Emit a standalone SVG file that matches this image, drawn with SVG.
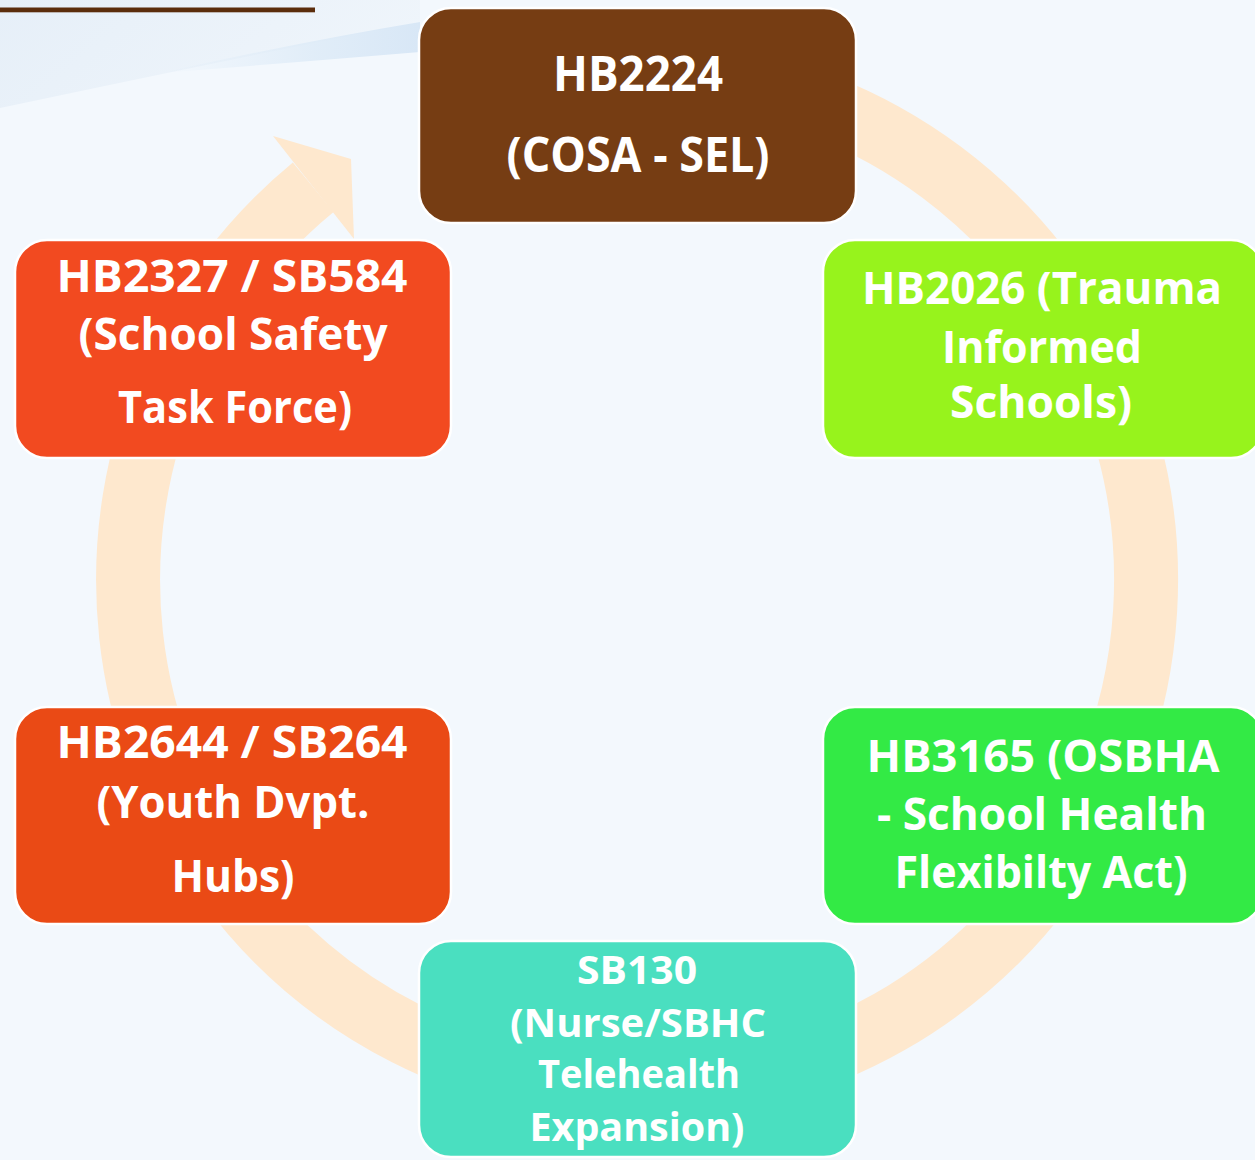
<svg xmlns="http://www.w3.org/2000/svg" width="1255" height="1160" viewBox="0 0 1255 1160">
<defs>
<linearGradient id="sky" x1="0" y1="0" x2="1" y2="0.3">
<stop offset="0" stop-color="#E6EFF8"/>
<stop offset="1" stop-color="#EFF5FB"/>
</linearGradient>
<linearGradient id="streak" x1="0" y1="0" x2="1" y2="0">
<stop offset="0" stop-color="#DCEAF7" stop-opacity="0"/>
<stop offset="0.6" stop-color="#DCEAF7" stop-opacity="0.8"/>
<stop offset="1" stop-color="#D8E7F6"/>
</linearGradient>
</defs>
<style>
.box{stroke:#FFFFFF;stroke-width:2.5}
.t{font-family:"Open Sans","Liberation Sans",sans-serif;font-weight:bold;fill:#FFFFFF;text-anchor:middle}
.ring{fill:none;stroke:#FEE8CE;stroke-width:64;stroke-linecap:butt}
</style>
<rect x="0" y="0" width="1255" height="1160" fill="#F3F8FD"/>
<path d="M0 0 H420 V22 Q250 55 0 108 Z" fill="url(#sky)"/>
<path d="M160 73 Q300 42 420 22 V52 Q300 62 160 73 Z" fill="url(#streak)"/>
<rect x="0" y="7.5" width="315" height="4.8" fill="#5B2D0C"/>

<g id="connectors">
<path class="ring" d="M 462.9 101.7 A 509 509 0 1 1 313.2 187.3"/>
<polygon points="273,136 351,159 354,239" fill="#FEE8CE"/>
</g>

<g id="node-hb2224">
<rect class="box" x="419" y="8" width="437" height="215" rx="32" fill="#763D13"/>
<text class="t" x="638" y="91" font-size="48" textLength="170" lengthAdjust="spacingAndGlyphs">HB2224</text>
<text class="t" x="638" y="172" font-size="48" textLength="263" lengthAdjust="spacingAndGlyphs">(COSA - SEL)</text>
</g>

<g id="node-hb2026">
<rect class="box" x="823" y="240" width="440" height="218" rx="32" fill="#97F31C"/>
<text class="t" x="1042" y="304" font-size="45" textLength="360" lengthAdjust="spacingAndGlyphs">HB2026 (Trauma</text>
<text class="t" x="1042" y="363" font-size="45" textLength="200" lengthAdjust="spacingAndGlyphs">Informed</text>
<text class="t" x="1041" y="418" font-size="45" textLength="182" lengthAdjust="spacingAndGlyphs">Schools)</text>
</g>

<g id="node-hb3165">
<rect class="box" x="823" y="707" width="440" height="217" rx="32" fill="#33EA45"/>
<text class="t" x="1043" y="772" font-size="45" textLength="353" lengthAdjust="spacingAndGlyphs">HB3165 (OSBHA</text>
<text class="t" x="1042" y="830" font-size="45" textLength="330" lengthAdjust="spacingAndGlyphs">- School Health</text>
<text class="t" x="1041" y="888" font-size="45" textLength="293" lengthAdjust="spacingAndGlyphs">Flexibilty Act)</text>
</g>

<g id="node-sb130">
<rect class="box" x="419" y="941" width="437" height="216" rx="32" fill="#4ADFC0"/>
<text class="t" x="637" y="984" font-size="40" textLength="120" lengthAdjust="spacingAndGlyphs">SB130</text>
<text class="t" x="638" y="1037" font-size="40" textLength="256" lengthAdjust="spacingAndGlyphs">(Nurse/SBHC</text>
<text class="t" x="639" y="1088" font-size="40" textLength="202" lengthAdjust="spacingAndGlyphs">Telehealth</text>
<text class="t" x="637" y="1141" font-size="40" textLength="215" lengthAdjust="spacingAndGlyphs">Expansion)</text>
</g>

<g id="node-hb2644">
<rect class="box" x="15" y="707" width="436" height="217" rx="32" fill="#EA4A15"/>
<text class="t" x="232" y="758" font-size="45" textLength="351" lengthAdjust="spacingAndGlyphs">HB2644 / SB264</text>
<text class="t" x="233" y="818" font-size="45" textLength="273" lengthAdjust="spacingAndGlyphs">(Youth Dvpt.</text>
<text class="t" x="233" y="892" font-size="45" textLength="123" lengthAdjust="spacingAndGlyphs">Hubs)</text>
</g>

<g id="node-hb2327">
<rect class="box" x="15" y="240" width="436" height="218" rx="32" fill="#F24A20"/>
<text class="t" x="232" y="292" font-size="45" textLength="351" lengthAdjust="spacingAndGlyphs">HB2327 / SB584</text>
<text class="t" x="233" y="350" font-size="45" textLength="309" lengthAdjust="spacingAndGlyphs">(School Safety</text>
<text class="t" x="235" y="423" font-size="45" textLength="234" lengthAdjust="spacingAndGlyphs">Task Force)</text>
</g>
</svg>
